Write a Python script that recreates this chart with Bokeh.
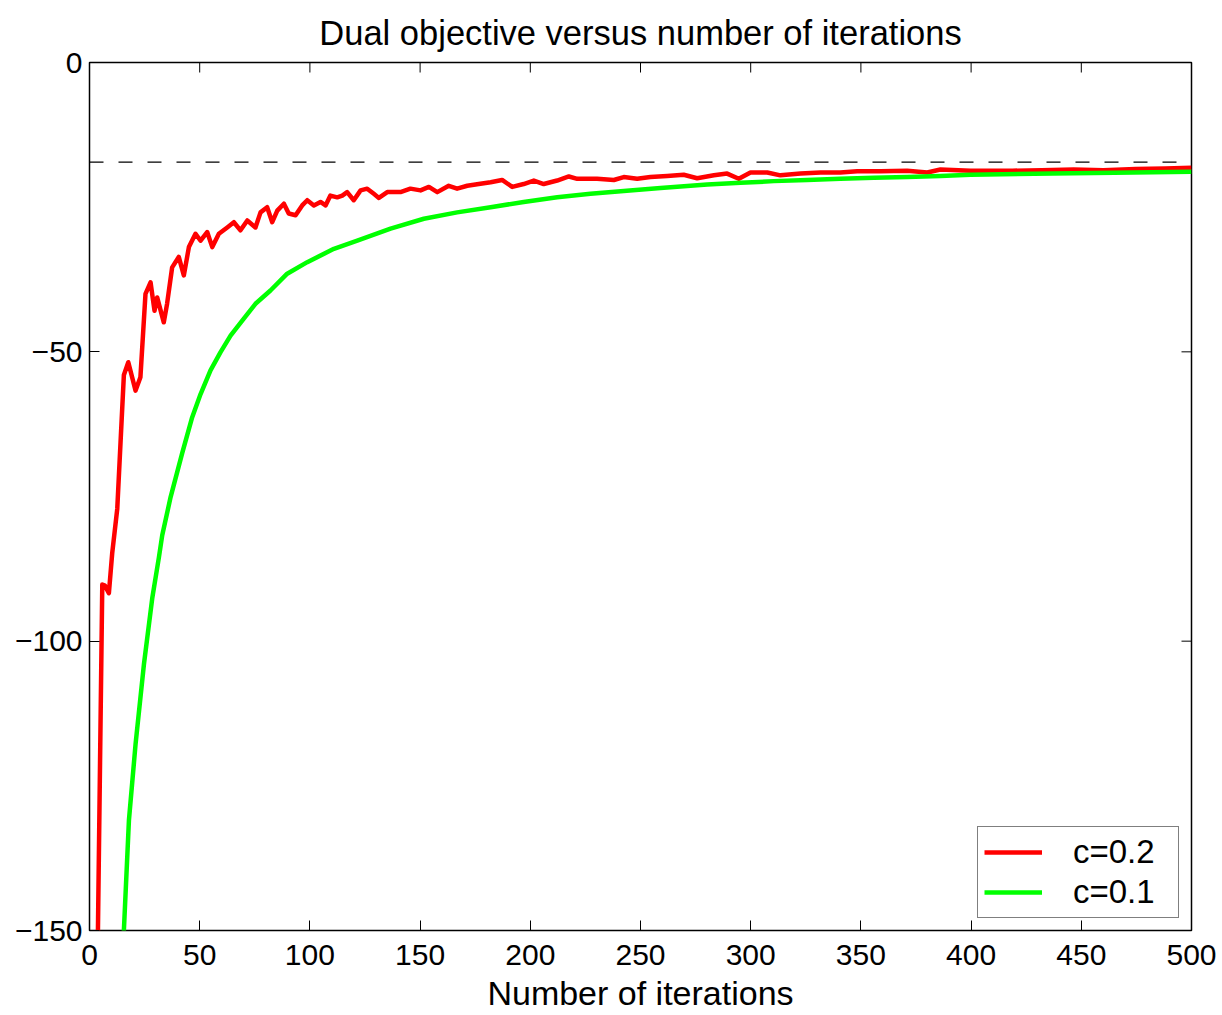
import math
from bokeh.plotting import figure
from bokeh.models import Span, Legend, LegendItem, FixedTicker, Range1d
from bokeh.embed import file_html
from bokeh.resources import INLINE

# ---- data ----
red_x = [3, 5.8, 7, 8.8, 10.3, 12.6, 14.1, 15.6, 17.6, 20.9, 23.1, 25.4, 27.7, 29.5, 30.7,
         33.7, 35.2, 37.5, 40.5, 42.8, 45.1, 48.1, 50.4, 53.4, 55.7, 58.7, 62.5, 65.5, 68.5,
         71.6, 75.3, 77.6, 80.6, 82.9, 85.2, 88.2, 90.4, 93.5, 96.5, 98.8, 101.8, 104.8,
         107.1, 109.3, 112.4, 114.7, 116.9, 119.9, 123, 126, 129, 131.3, 135.1, 141.1,
         145.6, 150.2, 154, 157.8, 163, 166.8, 171.4, 176.6, 182, 187.2, 191.8, 197, 201.6,
         206.1, 212.2, 217.5, 221.3, 230.3, 237.9, 242.4, 248.5, 254.5, 262.1, 269.6, 275.7,
         283.3, 289.3, 294.6, 299.9, 307.5, 313.5, 322.6, 331.7, 340.7, 348.3, 358.9, 371,
         380.1, 386.1, 399.7, 418.8, 432, 446.5, 460, 474.6, 488, 500]
red_y = [-175, -90.2, -90.4, -91.7, -84.8, -77.1, -65.5, -54, -51.8, -56.7, -54.4, -40, -38,
         -42.9, -40.6, -44.9, -41.7, -35.4, -33.6, -36.8, -31.9, -29.6, -30.8, -29.3, -31.9,
         -29.6, -28.5, -27.6, -29, -27.3, -28.5, -25.9, -25, -27.6, -25.6, -24.4, -26.1,
         -26.4, -24.7, -23.8, -24.7, -24.1, -24.7, -23, -23.3, -23, -22.4, -23.8, -22.1,
         -21.8, -22.7, -23.4, -22.4, -22.4, -21.8, -22.1, -21.5, -22.4, -21.3, -21.8, -21.3,
         -21, -20.7, -20.3, -21.5, -21, -20.4, -21, -20.4, -19.7, -20.1, -20.1, -20.3, -19.8,
         -20.1, -19.8, -19.6, -19.4, -20, -19.5, -19.2, -20.1, -19, -19, -19.5, -19.2, -19,
         -19, -18.8, -18.8, -18.7, -19, -18.5, -18.7, -18.7, -18.6, -18.5, -18.6, -18.4,
         -18.3, -18.2]

green_x = [14.5, 15.6, 17.9, 20.9, 24.7, 28.5, 31.5, 33, 36.8, 42, 46.6, 50.4, 54.9, 59.4,
           64, 69.3, 75.3, 82.1, 89.7, 98.8, 110.9, 121.5, 136.6, 151.7, 166.8, 182, 197,
           212.2, 227.3, 242.4, 259.1, 280.3, 295.4, 310.5, 325.6, 340.7, 355.9, 371, 386.1,
           399.7, 437, 465, 500]
green_y = [-159, -150, -130.9, -117.8, -104, -92.5, -85.5, -81.7, -75.1, -67.6, -61.3, -57.3,
           -53.2, -50.1, -47.2, -44.6, -41.7, -39.4, -36.5, -34.5, -32.2, -30.8, -28.7, -27,
           -25.9, -25, -24.1, -23.3, -22.7, -22.2, -21.7, -21.1, -20.8, -20.5, -20.3, -20.1,
           -19.9, -19.8, -19.6, -19.4, -19.2, -19.05, -18.9]

optimum = -17.2

x_ticks = [0, 50, 100, 150, 200, 250, 300, 350, 400, 450, 500]
y_ticks = [-150, -100, -50, 0]
y_tick_labels = {-150: "\u2212150", -100: "\u2212100", -50: "\u221250", 0: "0"}

series_labels = ["c=0.2", "c=0.1"]
title_text = "Dual objective versus number of iterations"
x_label = "Number of iterations"

FONT = "Liberation Sans"
X_START, X_END = 0, 500
Y_START, Y_END = -150, 0

p = figure(width=1222, height=1015, x_range=Range1d(X_START, X_END),
           y_range=Range1d(Y_START, Y_END),
           output_backend="svg", toolbar_location=None,
           min_border_left=89, min_border_top=62, min_border_right=31, min_border_bottom=85,
           title=title_text)
p.background_fill_color = "white"
p.border_fill_color = "white"
p.outline_line_color = "black"
p.outline_line_width = 1.5
p.grid.visible = False

p.title.text_font = FONT
p.title.text_font_size = "34.5px"
p.title.text_font_style = "normal"
p.title.align = "center"
p.title.text_color = "black"
p.title.standoff = 22


def style_axis(ax):
    ax.axis_line_color = None
    ax.major_tick_in = 10
    ax.major_tick_out = 0
    ax.minor_tick_in = 0
    ax.minor_tick_out = 0
    ax.major_tick_line_color = "black"
    ax.major_tick_line_width = 1
    ax.major_label_text_font = FONT
    ax.major_label_text_font_size = "30px"
    ax.major_label_text_color = "black"


xa = p.xaxis[0]
xa.ticker = FixedTicker(ticks=x_ticks)
style_axis(xa)
xa.major_label_standoff = 14
xa.axis_label = x_label
xa.axis_label_text_font = FONT
xa.axis_label_text_font_size = "34px"
xa.axis_label_text_font_style = "normal"
xa.axis_label_text_color = "black"
xa.axis_label_standoff = 6

ya = p.yaxis[0]
ya.ticker = FixedTicker(ticks=y_ticks)
ya.major_label_overrides = y_tick_labels
style_axis(ya)
ya.major_label_standoff = 7

# inward tick marks on the top and right edges of the box (clipped to the frame)
p.scatter(x=x_ticks, y=[Y_END] * len(x_ticks), marker="dash", angle=math.pi / 2, size=20,
          line_color="black", line_width=1)
p.scatter(x=[X_END] * len(y_ticks), y=y_ticks, marker="dash", size=20,
          line_color="black", line_width=1)

p.add_layout(Span(location=optimum, dimension="width", line_color="black",
                  line_width=1.2, line_dash="14 15"))

r_red = p.line(red_x, red_y, line_color="#ff0000", line_width=4.5, line_join="round")
r_green = p.line(green_x, green_y, line_color="#00ff00", line_width=4.5, line_join="round")

legend = Legend(items=[LegendItem(label=series_labels[0], renderers=[r_red]),
                       LegendItem(label=series_labels[1], renderers=[r_green])],
                location="bottom_right")
legend.label_text_font = FONT
legend.label_text_font_size = "33px"
legend.label_text_color = "black"
legend.border_line_color = "black"
legend.border_line_width = 1
legend.background_fill_alpha = 1
legend.margin = 12
legend.padding = 6
legend.spacing = 2
legend.glyph_width = 58
legend.glyph_height = 30
legend.label_standoff = 31
legend.label_width = 99
p.add_layout(legend)

open("out.html", "w").write(file_html(p, INLINE))
